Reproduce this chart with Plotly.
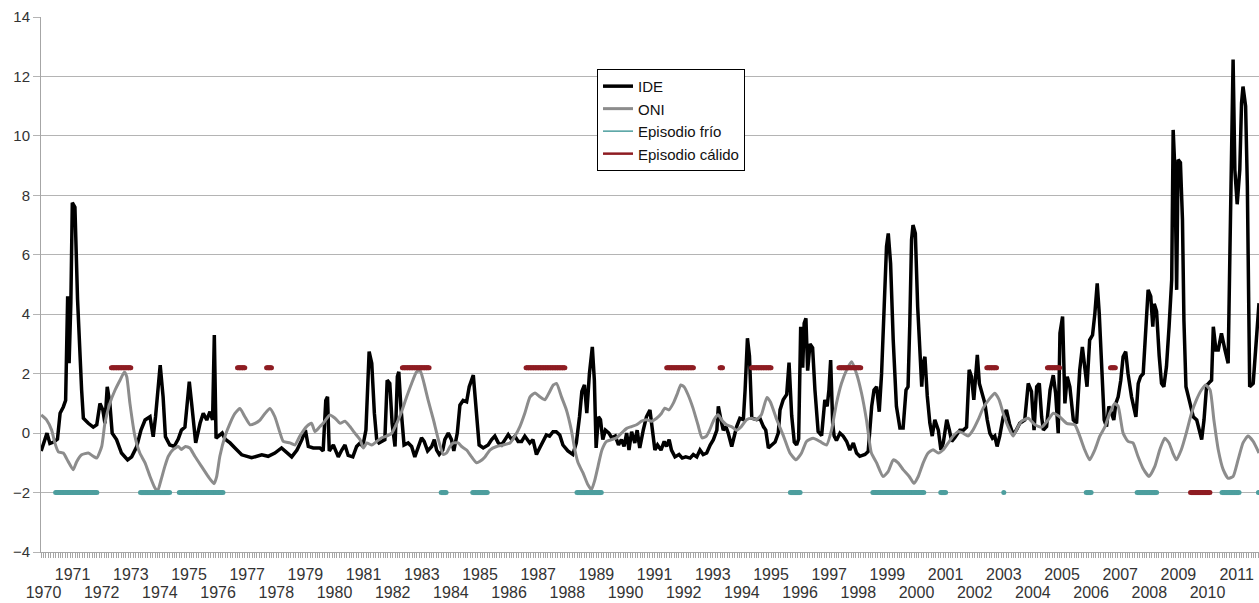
import plotly.graph_objects as go

# ---------------- data ----------------
ide_years = [1969.92, 1970.12, 1970.22, 1970.35, 1970.48, 1970.57, 1970.68, 1970.76, 1970.83, 1970.88,
             1970.94, 1970.99, 1971.08, 1971.17, 1971.31, 1971.37, 1971.54, 1971.71, 1971.83, 1971.94,
             1972.04, 1972.11, 1972.19, 1972.28, 1972.36, 1972.51, 1972.68, 1972.89, 1973.03, 1973.20,
             1973.35, 1973.49, 1973.66, 1973.77, 1973.85, 1974.01, 1974.11, 1974.19, 1974.34, 1974.49,
             1974.63, 1974.74, 1974.86, 1975.01, 1975.09, 1975.23, 1975.38, 1975.49, 1975.61, 1975.72,
             1975.81, 1975.87, 1975.93, 1976.03, 1976.14, 1976.24, 1976.41, 1976.58, 1976.81, 1977.15,
             1977.50, 1977.72, 1977.95, 1978.18, 1978.36, 1978.53, 1978.71, 1978.88, 1979.00, 1979.10,
             1979.27, 1979.50, 1979.61, 1979.70, 1979.76, 1979.82, 1979.96, 1980.13, 1980.25, 1980.36,
             1980.47, 1980.63, 1980.76, 1980.88, 1980.97, 1981.08, 1981.19, 1981.28, 1981.37, 1981.45,
             1981.53, 1981.62, 1981.73, 1981.81, 1981.90, 1981.98, 1982.08, 1982.16, 1982.21, 1982.28,
             1982.39, 1982.53, 1982.65, 1982.76, 1982.88, 1982.99, 1983.08, 1983.20, 1983.34, 1983.43,
             1983.51, 1983.60, 1983.72, 1983.79, 1983.91, 1984.02, 1984.10, 1984.22, 1984.31, 1984.42,
             1984.54, 1984.63, 1984.77, 1984.88, 1984.97, 1985.11, 1985.28, 1985.40, 1985.51, 1985.63,
             1985.74, 1985.86, 1985.97, 1986.09, 1986.20, 1986.31, 1986.43, 1986.54, 1986.71, 1986.82,
             1986.94, 1987.05, 1987.16, 1987.28, 1987.39, 1987.51, 1987.62, 1987.74, 1987.85, 1988.02,
             1988.19, 1988.31, 1988.42, 1988.50, 1988.59, 1988.67, 1988.76, 1988.86, 1988.93, 1988.99,
             1989.07, 1989.14, 1989.22, 1989.31, 1989.43, 1989.53, 1989.65, 1989.76, 1989.86, 1989.95,
             1990.04, 1990.12, 1990.21, 1990.32, 1990.40, 1990.49, 1990.61, 1990.72, 1990.84, 1990.93,
             1991.01, 1991.10, 1991.22, 1991.33, 1991.41, 1991.50, 1991.58, 1991.70, 1991.84, 1991.95,
             1992.07, 1992.22, 1992.33, 1992.45, 1992.56, 1992.67, 1992.79, 1992.91, 1993.02, 1993.14,
             1993.19, 1993.28, 1993.36, 1993.45, 1993.53, 1993.65, 1993.74, 1993.82, 1993.93, 1994.05,
             1994.11, 1994.19, 1994.26, 1994.34, 1994.51, 1994.62, 1994.74, 1994.82, 1994.91, 1995.02,
             1995.14, 1995.25, 1995.31, 1995.42, 1995.54, 1995.62, 1995.71, 1995.80, 1995.88, 1995.95,
             1996.02, 1996.09, 1996.14, 1996.20, 1996.26, 1996.34, 1996.43, 1996.51, 1996.62, 1996.74,
             1996.85, 1996.93, 1996.99, 1997.05, 1997.12, 1997.17, 1997.25, 1997.37, 1997.48, 1997.60,
             1997.71, 1997.83, 1997.94, 1998.05, 1998.23, 1998.34, 1998.46, 1998.54, 1998.63, 1998.72,
             1998.80, 1998.89, 1998.97, 1999.03, 1999.11, 1999.20, 1999.31, 1999.43, 1999.54, 1999.64,
             1999.71, 1999.77, 1999.83, 1999.88, 1999.96, 2000.04, 2000.12, 2000.18, 2000.23, 2000.29,
             2000.37, 2000.46, 2000.54, 2000.63, 2000.75, 2000.84, 2000.92, 2001.04, 2001.13, 2001.21,
             2001.32, 2001.49, 2001.61, 2001.72, 2001.81, 2001.89, 2001.97, 2002.03, 2002.09, 2002.16,
             2002.24, 2002.35, 2002.43, 2002.52, 2002.61, 2002.69, 2002.77, 2002.86, 2002.98, 2003.09,
             2003.20, 2003.32, 2003.43, 2003.55, 2003.72, 2003.84, 2003.95, 2004.04, 2004.13, 2004.22,
             2004.30, 2004.36, 2004.47, 2004.59, 2004.70, 2004.78, 2004.87, 2004.93, 2005.02, 2005.10,
             2005.18, 2005.27, 2005.39, 2005.50, 2005.61, 2005.70, 2005.78, 2005.86, 2005.95, 2006.05,
             2006.13, 2006.21, 2006.28, 2006.36, 2006.45, 2006.53, 2006.61, 2006.70, 2006.78, 2006.85,
             2006.93, 2007.02, 2007.10, 2007.19, 2007.27, 2007.39, 2007.47, 2007.54, 2007.62, 2007.70,
             2007.79, 2007.88, 2007.96, 2008.05, 2008.12, 2008.17, 2008.25, 2008.34, 2008.42, 2008.50,
             2008.59, 2008.68, 2008.77, 2008.82, 2008.88, 2008.94, 2008.99, 2009.07, 2009.14, 2009.19,
             2009.26, 2009.40, 2009.51, 2009.63, 2009.71, 2009.80, 2009.88, 2009.97, 2010.09, 2010.14,
             2010.20, 2010.29, 2010.37, 2010.48, 2010.60, 2010.71, 2010.77, 2010.82, 2010.88, 2010.94,
             2011.02, 2011.11, 2011.17, 2011.22, 2011.31, 2011.37, 2011.42, 2011.45, 2011.57, 2011.69,
             2011.77]
ide_values = [-0.6, 0.0, -0.35, -0.3, -0.2, 0.67, 0.88, 1.1, 4.6, 2.35,
              4.4, 7.75, 7.6, 4.5, 1.45, 0.5, 0.33, 0.2, 0.28, 1.0,
              0.78, 0.33, 1.56, 1.0, 0.0, -0.22, -0.67, -0.9, -0.8, -0.46,
              0.1, 0.44, 0.55, -0.12, 0.55, 2.29, 1.22, -0.12, -0.4, -0.45,
              -0.2, 0.1, 0.2, 1.73, 1.0, -0.33, 0.33, 0.67, 0.44, 0.72,
              0.44, 3.3, -0.17, -0.1, 0.0, -0.2, -0.33, -0.5, -0.73, -0.83,
              -0.73, -0.78, -0.67, -0.5, -0.67, -0.8, -0.57, -0.22, 0.1, -0.45,
              -0.5, -0.5, -0.6, 1.1, 1.22, -0.6, -0.4, -0.8, -0.57, -0.4,
              -0.75, -0.8, -0.45, -0.33, -0.45, 0.1, 2.74, 2.35, 0.67, -0.22,
              -0.33, -0.28, -0.22, 1.78, 1.67, 0.33, -0.45, 1.9, 2.06, 0.9,
              -0.4, -0.33, -0.45, -0.8, -0.45, -0.16, -0.28, -0.6, -0.45, -0.22,
              -0.57, -0.72, -0.57, -0.22, 0.0, -0.22, -0.6, 0.0, 0.94, 1.1,
              1.05, 1.56, 1.95, 0.67, -0.4, -0.5, -0.4, -0.22, -0.1, -0.33,
              -0.4, -0.22, -0.05, -0.22, -0.1, -0.28, -0.28, -0.1, -0.33, -0.22,
              -0.72, -0.5, -0.28, -0.06, -0.1, 0.05, 0.05, -0.06, -0.4, -0.6,
              -0.72, -0.33, 0.55, 1.4, 1.62, 0.67, 2.0, 2.9, 1.78, -0.5,
              0.55, 0.45, -0.22, 0.1, 0.0, -0.16, -0.1, -0.4, -0.22, -0.45,
              0.0, -0.57, 0.05, -0.33, 0.1, -0.5, 0.1, 0.55, 0.78, 0.1,
              -0.57, -0.4, -0.57, -0.28, -0.45, -0.22, -0.57, -0.8, -0.72, -0.84,
              -0.8, -0.84, -0.72, -0.8, -0.57, -0.72, -0.67, -0.4, -0.22, 0.1,
              0.9, 0.45, 0.1, 0.22, 0.0, -0.45, -0.05, 0.22, 0.5, 0.45,
              1.45, 3.19, 2.6, 0.5, 0.45, 0.5, 0.22, 0.1, -0.5, -0.4,
              -0.3, 0.0, 0.78, 1.12, 1.3, 2.37, 0.6, -0.3, -0.4, -0.2,
              3.58, 2.2, 3.69, 3.86, 2.1, 3.0, 2.87, 1.45, 0.05, -0.08,
              1.12, 0.9, 1.45, 2.46, 0.33, -0.1, -0.25, 0.0, -0.1, -0.28,
              -0.57, -0.33, -0.67, -0.78, -0.72, -0.62, 0.9, 1.45, 1.56, 0.72,
              2.0, 4.26, 6.28, 6.72, 5.7, 3.13, 0.9, 0.17, 0.17, 1.45,
              1.56, 3.69, 6.5, 7.0, 6.72, 4.26, 2.8, 1.56, 2.35, 2.57,
              1.25, 0.33, -0.1, 0.45, 0.1, -0.57, -0.33, 0.45, 0.1, -0.28,
              -0.15, 0.1, 0.1, 0.2, 2.13, 1.9, 1.12, 2.0, 2.63, 1.67,
              1.35, 1.0, 0.45, 0.0, -0.17, -0.1, -0.45, -0.1, 0.55, 0.78,
              0.3, -0.05, 0.1, 0.33, 0.44, 1.67, 1.4, 0.1, 1.56, 1.67,
              0.55, 0.1, 0.22, 1.45, 1.95, 1.35, 0.0, 3.36, 3.92, 1.0,
              1.9, 1.56, 0.44, 0.33, 2.13, 2.9, 2.24, 1.56, 3.13, 3.3,
              4.03, 5.04, 4.03, 2.13, 0.44, 0.22, 0.9, 0.67, 0.44, 1.0,
              1.22, 1.78, 2.57, 2.74, 2.0, 1.22, 0.9, 0.55, 1.67, 1.9,
              2.0, 3.8, 4.82, 4.6, 3.58, 4.35, 4.1, 2.6, 1.67, 1.56,
              2.24, 3.58, 5.16, 10.2, 8.86, 4.82, 9.2, 9.1, 7.18, 3.8,
              1.56, 1.0, 0.55, 0.44, 0.1, -0.22, 0.44, 1.6, 1.73, 1.78,
              3.58, 2.8, 2.8, 3.36, 2.8, 2.35, 6.05, 10.0, 12.57, 8.86,
              7.7, 8.86, 11.1, 11.66, 11.0, 8.3, 4.93, 1.56, 1.67, 3.25,
              4.37]

oni_years = [1969.92, 1970.11, 1970.28, 1970.39, 1970.51, 1970.68, 1970.85, 1971.02, 1971.14, 1971.31,
             1971.54, 1971.71, 1971.83, 1972.00, 1972.11, 1972.28, 1972.46, 1972.63, 1972.78, 1972.86,
             1972.97, 1973.14, 1973.31, 1973.49, 1973.66, 1973.83, 1973.92, 1974.04, 1974.17, 1974.29,
             1974.46, 1974.63, 1974.74, 1974.88, 1975.03, 1975.20, 1975.43, 1975.66, 1975.86, 1975.95,
             1976.06, 1976.24, 1976.41, 1976.58, 1976.75, 1976.92, 1977.10, 1977.27, 1977.44, 1977.61,
             1977.78, 1977.95, 1978.13, 1978.24, 1978.47, 1978.64, 1978.81, 1979.04, 1979.21, 1979.33,
             1979.50, 1979.61, 1979.84, 1980.02, 1980.19, 1980.36, 1980.53, 1980.70, 1980.88, 1980.99,
             1981.11, 1981.28, 1981.45, 1981.62, 1981.79, 1981.97, 1982.14, 1982.31, 1982.48, 1982.65,
             1982.82, 1982.94, 1983.05, 1983.22, 1983.40, 1983.57, 1983.74, 1983.85, 1983.97, 1984.08,
             1984.25, 1984.37, 1984.54, 1984.71, 1984.88, 1985.00, 1985.17, 1985.34, 1985.57, 1985.80,
             1986.03, 1986.20, 1986.37, 1986.54, 1986.72, 1986.89, 1987.06, 1987.23, 1987.37, 1987.52,
             1987.63, 1987.80, 1987.97, 1988.14, 1988.26, 1988.37, 1988.54, 1988.71, 1988.83, 1988.94,
             1989.06, 1989.19, 1989.35, 1989.52, 1989.69, 1989.86, 1990.04, 1990.21, 1990.38, 1990.55,
             1990.72, 1990.89, 1991.07, 1991.24, 1991.35, 1991.49, 1991.64, 1991.79, 1991.90, 1992.01,
             1992.15, 1992.32, 1992.49, 1992.63, 1992.78, 1992.89, 1993.04, 1993.18, 1993.30, 1993.47,
             1993.64, 1993.81, 1993.98, 1994.16, 1994.33, 1994.50, 1994.67, 1994.86, 1994.98, 1995.20,
             1995.43, 1995.65, 1995.86, 1996.05, 1996.22, 1996.45, 1996.68, 1996.91, 1997.08, 1997.25,
             1997.42, 1997.60, 1997.77, 1997.94, 1998.11, 1998.28, 1998.45, 1998.63, 1998.85, 1999.03,
             1999.20, 1999.37, 1999.54, 1999.75, 1999.91, 2000.06, 2000.23, 2000.40, 2000.57, 2000.75,
             2000.92, 2001.09, 2001.26, 2001.43, 2001.60, 2001.77, 2001.94, 2002.12, 2002.29, 2002.52,
             2002.69, 2002.84, 2002.98, 2003.15, 2003.32, 2003.48, 2003.61, 2003.84, 2004.07, 2004.30,
             2004.52, 2004.70, 2004.92, 2005.16, 2005.44, 2005.61, 2005.78, 2005.95, 2006.13, 2006.30,
             2006.47, 2006.64, 2006.81, 2006.93, 2007.10, 2007.27, 2007.44, 2007.61, 2007.78, 2007.99,
             2008.19, 2008.36, 2008.53, 2008.68, 2008.81, 2008.93, 2009.10, 2009.27, 2009.45, 2009.62,
             2009.79, 2009.94, 2010.09, 2010.22, 2010.37, 2010.54, 2010.71, 2010.88, 2011.05, 2011.22,
             2011.39, 2011.57, 2011.77]
oni_values = [0.61, 0.44, 0.1, -0.33, -0.63, -0.67, -0.96, -1.23, -0.96, -0.73,
              -0.67, -0.78, -0.84, -0.45, 0.33, 1.0, 1.45, 1.78, 2.06, 1.9,
              1.0, -0.1, -0.67, -1.0, -1.46, -1.85, -1.96, -1.57, -1.12, -0.78,
              -0.55, -0.45, -0.55, -0.45, -0.5, -0.78, -1.12, -1.46, -1.7, -1.46,
              -0.78, -0.1, 0.33, 0.66, 0.83, 0.55, 0.28, 0.33, 0.44, 0.66,
              0.83, 0.55, 0.0, -0.28, -0.33, -0.4, -0.1, 0.22, 0.33, 0.05,
              0.22, 0.33, 0.61, 0.5, 0.33, 0.4, 0.22, 0.0, -0.22, -0.5,
              -0.33, -0.4, -0.28, -0.16, -0.1, 0.0, 0.33, 0.73, 1.22, 1.67,
              2.06, 2.1, 1.78, 1.1, 0.45, -0.22, -0.72, -0.67, -0.45, -0.33,
              -0.33, -0.45, -0.57, -0.8, -1.0, -0.95, -0.8, -0.57, -0.45, -0.4,
              -0.33, -0.1, 0.22, 0.67, 1.22, 1.35, 1.22, 1.12, 1.35, 1.62,
              1.67, 1.22, 0.78, 0.1, -0.57, -1.0, -1.34, -1.74, -1.9, -1.6,
              -1.1, -0.57, -0.28, -0.22, -0.16, 0.0, 0.16, 0.22, 0.28, 0.4,
              0.45, 0.4, 0.5, 0.67, 0.84, 0.78, 1.0, 1.35, 1.62, 1.56,
              1.29, 0.84, 0.28, -0.16, -0.1, 0.1, 0.45, 0.62, 0.45, 0.28,
              0.22, 0.1, 0.22, 0.45, 0.5, 0.45, 0.62, 1.2, 1.05, 0.45,
              -0.1, -0.67, -0.9, -0.67, -0.28, -0.17, -0.28, -0.4, 0.1, 1.0,
              1.67, 2.13, 2.4, 2.0, 1.35, 0.45, -0.67, -1.0, -1.46, -1.29,
              -0.9, -1.0, -1.23, -1.46, -1.69, -1.46, -1.0, -0.67, -0.56, -0.67,
              -0.56, -0.33, -0.1, 0.05, 0.0, -0.1, 0.1, 0.45, 0.84, 1.17,
              1.34, 1.12, 0.67, 0.22, -0.1, 0.2, 0.4, 0.5, 0.28, 0.2,
              0.44, 0.67, 0.55, 0.33, 0.28, -0.1, -0.56, -0.9, -0.56, -0.1,
              0.2, 0.67, 1.0, 0.9, 0.0, -0.28, -0.33, -0.78, -1.18, -1.46,
              -1.12, -0.56, -0.17, -0.33, -0.67, -0.9, -0.56, 0.0, 0.67, 1.12,
              1.45, 1.62, 1.45, 0.44, -0.56, -1.23, -1.52, -1.46, -0.9, -0.33,
              -0.1, -0.28, -0.67]

# episodes (first and last month of each)
cold_start = ["1970-06", "1973-05", "1974-09", "1983-09", "1984-10", "1988-05", "1995-09",
              "1998-07", "2000-11", "2003-01", "2005-11", "2007-08", "2010-07", "2011-10"]
cold_end = ["1971-11", "1974-05", "1976-03", "1983-11", "1985-04", "1989-03", "1996-01",
            "2000-04", "2001-01", "2003-01", "2006-01", "2008-04", "2011-02", "2011-12"]
cold_level = -2.0

warm_start = ["1972-05", "1976-09", "1977-09", "1982-05", "1986-08", "1991-06", "1993-04",
              "1994-05", "1997-05", "2002-06", "2004-07", "2006-09", "2009-06"]
warm_end = ["1973-01", "1976-12", "1977-11", "1983-04", "1987-12", "1992-05", "1993-05",
            "1995-01", "1998-02", "2002-10", "2004-12", "2006-11", "2010-02"]
warm_level = [2.2, 2.2, 2.2, 2.2, 2.2, 2.2, 2.2, 2.2, 2.2, 2.2, 2.2, 2.2, -2.0]

years = list(range(1970, 2012))
y_ticks = list(range(-4, 15, 2))


# ---------------- helpers ----------------
def month_list(start, end):
    ys, ms = map(int, start.split("-"))
    ye, me = map(int, end.split("-"))
    out = []
    y, m = ys, ms
    while (y, m) <= (ye, me):
        out.append(y + (m - 1) / 12.0)
        m += 1
        if m > 12:
            m = 1
            y += 1
    return out


def episode_series(starts, ends, levels):
    xs, ys = [], []
    for s, e, lv in zip(starts, ends, levels):
        ms = month_list(s, e)
        xs += ms + [None]
        ys += [lv] * len(ms) + [None]
    return xs, ys


cold_x, cold_y = episode_series(cold_start, cold_end, [cold_level] * len(cold_start))
warm_x, warm_y = episode_series(warm_start, warm_end, warm_level)

BLACK = "#000000"
GRAY = "#8c8c8c"
TEAL = "#4d9e9e"
DARKRED = "#8e1c22"
AXIS = "#a6a6a6"
LABEL = "#333333"

fig = go.Figure()
fig.add_trace(go.Scatter(x=ide_years, y=ide_values, mode="lines", name="IDE",
                         line=dict(color=BLACK, width=3.5), legendrank=1, hoverinfo="skip"))
fig.add_trace(go.Scatter(x=oni_years, y=oni_values, mode="lines", name="ONI",
                         line=dict(color=GRAY, width=3, shape="spline", smoothing=0.5),
                         legendrank=2, hoverinfo="skip"))
fig.add_trace(go.Scatter(x=cold_x, y=cold_y, mode="lines+markers", name="Episodio frío",
                         xaxis="x2", line=dict(color=TEAL, width=5),
                         marker=dict(color=TEAL, size=5), showlegend=False, hoverinfo="skip"))
fig.add_trace(go.Scatter(x=warm_x, y=warm_y, mode="lines+markers", name="Episodio cálido",
                         xaxis="x2", line=dict(color=DARKRED, width=5),
                         marker=dict(color=DARKRED, size=5), showlegend=False, hoverinfo="skip"))
# legend entries for the episode series
fig.add_trace(go.Scatter(x=[None], y=[None], mode="lines", name="Episodio frío",
                         line=dict(color=TEAL, width=1.5), legendrank=3))
fig.add_trace(go.Scatter(x=[None], y=[None], mode="lines", name="Episodio cálido",
                         line=dict(color=DARKRED, width=2.5), legendrank=4))

x_range = [1969.914, 2011.77]
odd_years = [y for y in years if y % 2 == 1]
even_years = [y for y in years if y % 2 == 0]

fig.update_layout(
    width=1259, height=603,
    margin=dict(l=41, r=0, t=17, b=51),
    paper_bgcolor="white", plot_bgcolor="white",
    font=dict(family="Liberation Sans, Arial, sans-serif", size=15, color=LABEL),
    showlegend=True,
    legend=dict(x=0.4565, y=0.903, xanchor="left", yanchor="top",
                bgcolor="white", bordercolor="black", borderwidth=1,
                font=dict(size=15, color="#111111"), tracegroupgap=0,
                itemwidth=30),
    xaxis=dict(range=x_range, tickmode="array", tickvals=odd_years,
               ticktext=[str(y) for y in odd_years],
               ticks="outside", ticklen=5, tickcolor=AXIS, showline=True, linecolor=AXIS,
               showgrid=False, zeroline=False, ticklabelstandoff=3,
               minor=dict(dtick=1 / 12, tick0=1970, ticks="outside", ticklen=5,
                          tickcolor=AXIS, showgrid=False),
               tickfont=dict(size=16, color=LABEL)),
    xaxis2=dict(range=x_range, overlaying="x", anchor="y", side="bottom",
                tickmode="array", tickvals=even_years, ticktext=[str(y) for y in even_years],
                ticks="", showline=False, showgrid=False, zeroline=False,
                ticklabelstandoff=29, tickfont=dict(size=16, color=LABEL)),
    yaxis=dict(range=[-4, 14], tickmode="array", tickvals=y_ticks,
               showgrid=True, gridcolor="#b4b4b4", gridwidth=1,
               showline=True, linecolor=AXIS, ticks="outside", ticklen=7, tickcolor="#b4b4b4",
               zeroline=False, tickfont=dict(size=15, color=LABEL)),
)

fig.write_html("out.html", config={"displayModeBar": False},
               post_script="document.body.style.margin='0';")
